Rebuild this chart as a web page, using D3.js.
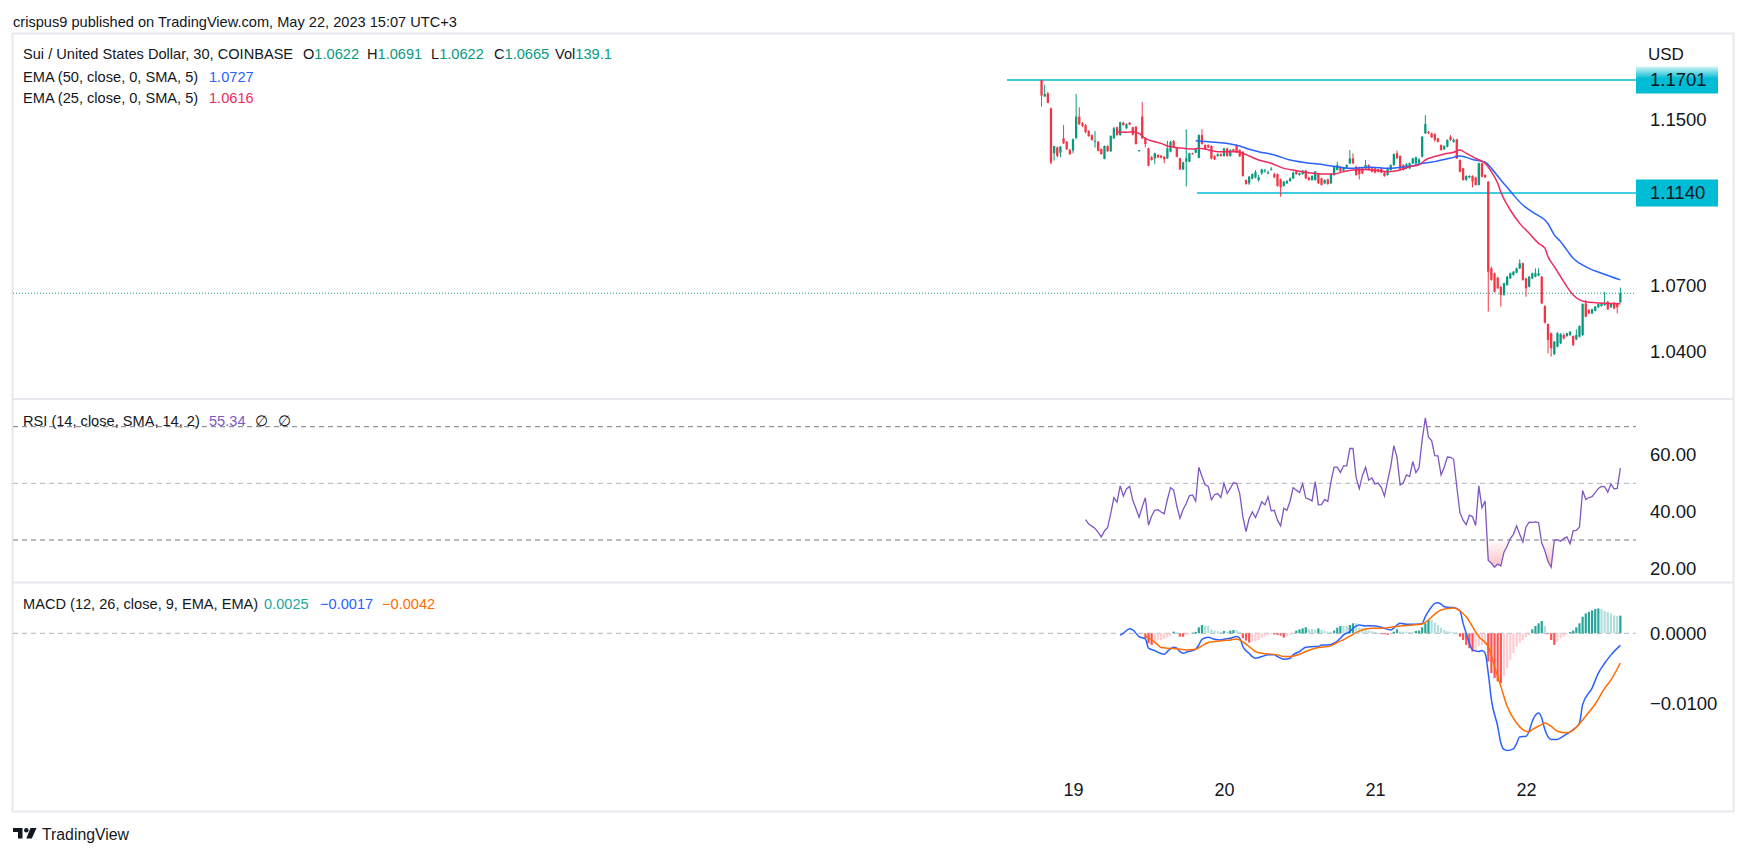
<!DOCTYPE html>
<html><head><meta charset="utf-8">
<script src="https://cdn.jsdelivr.net/npm/d3@7"></script>
<style>
html,body{margin:0;padding:0;background:#fff;}
svg{display:block;font-family:"Liberation Sans",Arial,sans-serif;}
</style></head><body>
<svg id="chart" width="1746" height="856"></svg>
<script>
// ---------- DATA ----------
// 30-minute candles [open, high, low, close], index 0 = May 18 19:00 (UTC+3)
const candles = [
[1.1701,1.1701,1.1566,1.1622],[1.1617,1.1676,1.1617,1.1630],[1.1633,1.1640,1.1583,1.1586],[1.1558,1.1561,1.1281,1.1288],
[1.1334,1.1370,1.1298,1.1370],[1.1363,1.1367,1.1314,1.1321],[1.1337,1.1370,1.1314,1.1367],[1.1408,1.1474,1.1380,1.1383],
[1.1391,1.1395,1.1350,1.1354],[1.1350,1.1357,1.1326,1.1330],[1.1347,1.1408,1.1334,1.1403],[1.1410,1.1630,1.1403,1.1516],
[1.1516,1.1563,1.1474,1.1479],[1.1483,1.1489,1.1463,1.1469],[1.1473,1.1479,1.1433,1.1439],[1.1444,1.1449,1.1416,1.1419],
[1.1424,1.1428,1.1396,1.1400],[1.1391,1.1444,1.1362,1.1396],[1.1391,1.1395,1.1344,1.1347],[1.1355,1.1358,1.1327,1.1330],
[1.1306,1.1373,1.1304,1.1370],[1.1370,1.1373,1.1340,1.1344],[1.1344,1.1423,1.1340,1.1419],[1.1408,1.1466,1.1405,1.1458],
[1.1463,1.1466,1.1421,1.1424],[1.1424,1.1491,1.1421,1.1488],[1.1486,1.1491,1.1471,1.1474],[1.1458,1.1483,1.1454,1.1478],
[1.1486,1.1489,1.1473,1.1476],[1.1463,1.1466,1.1423,1.1426],[1.1466,1.1469,1.1377,1.1380],[1.1344,1.1350,1.1344,1.1350],
[1.1516,1.1590,1.1405,1.1408],[1.1408,1.1411,1.1363,1.1380],[1.1358,1.1362,1.1270,1.1273],[1.1314,1.1321,1.1298,1.1301],
[1.1309,1.1337,1.1281,1.1334],[1.1326,1.1329,1.1311,1.1314],[1.1322,1.1326,1.1309,1.1312],[1.1317,1.1321,1.1285,1.1304],
[1.1309,1.1396,1.1306,1.1358],[1.1342,1.1396,1.1339,1.1391],[1.1395,1.1400,1.1362,1.1365],[1.1362,1.1365,1.1314,1.1317],
[1.1309,1.1312,1.1252,1.1255],[1.1255,1.1293,1.1252,1.1290],[1.1293,1.1453,1.1172,1.1309],[1.1293,1.1337,1.1290,1.1334],
[1.1334,1.1337,1.1327,1.1330],[1.1337,1.1357,1.1334,1.1354],[1.1312,1.1428,1.1309,1.1424],[1.1424,1.1453,1.1377,1.1380],
[1.1375,1.1378,1.1350,1.1354],[1.1375,1.1378,1.1360,1.1363],[1.1370,1.1373,1.1304,1.1308],[1.1321,1.1324,1.1301,1.1304],
[1.1321,1.1334,1.1317,1.1330],[1.1330,1.1334,1.1317,1.1321],[1.1321,1.1362,1.1317,1.1358],[1.1358,1.1362,1.1317,1.1321],
[1.1321,1.1354,1.1317,1.1350],[1.1354,1.1357,1.1340,1.1344],[1.1375,1.1378,1.1335,1.1339],[1.1350,1.1354,1.1316,1.1319],
[1.1342,1.1345,1.1219,1.1223],[1.1203,1.1206,1.1180,1.1184],[1.1187,1.1223,1.1179,1.1219],[1.1210,1.1236,1.1206,1.1232],
[1.1216,1.1252,1.1211,1.1242],[1.1203,1.1228,1.1195,1.1216],[1.1236,1.1258,1.1228,1.1255],[1.1247,1.1258,1.1239,1.1250],
[1.1237,1.1249,1.1231,1.1240],[1.1255,1.1266,1.1249,1.1258],[1.1232,1.1239,1.1213,1.1216],[1.1232,1.1236,1.1171,1.1174],
[1.1206,1.1210,1.1122,1.1167],[1.1174,1.1198,1.1171,1.1195],[1.1187,1.1203,1.1184,1.1198],[1.1198,1.1216,1.1195,1.1211],
[1.1211,1.1244,1.1208,1.1239],[1.1249,1.1252,1.1229,1.1232],[1.1228,1.1239,1.1224,1.1236],[1.1232,1.1252,1.1229,1.1249],
[1.1249,1.1252,1.1208,1.1211],[1.1216,1.1219,1.1200,1.1203],[1.1203,1.1226,1.1200,1.1223],[1.1203,1.1247,1.1200,1.1244],
[1.1232,1.1236,1.1184,1.1187],[1.1211,1.1214,1.1176,1.1179],[1.1187,1.1206,1.1184,1.1203],[1.1206,1.1210,1.1180,1.1184],
[1.1187,1.1236,1.1184,1.1232],[1.1228,1.1271,1.1224,1.1268],[1.1252,1.1293,1.1249,1.1276],[1.1268,1.1271,1.1240,1.1244],
[1.1249,1.1268,1.1245,1.1265],[1.1260,1.1280,1.1257,1.1276],[1.1285,1.1350,1.1281,1.1309],[1.1309,1.1334,1.1281,1.1285],
[1.1268,1.1273,1.1224,1.1228],[1.1265,1.1268,1.1206,1.1232],[1.1260,1.1263,1.1232,1.1236],[1.1260,1.1301,1.1257,1.1276],
[1.1276,1.1280,1.1249,1.1252],[1.1260,1.1263,1.1240,1.1244],[1.1260,1.1263,1.1236,1.1239],[1.1255,1.1258,1.1240,1.1244],
[1.1260,1.1263,1.1236,1.1239],[1.1239,1.1242,1.1219,1.1223],[1.1228,1.1263,1.1224,1.1260],[1.1252,1.1280,1.1249,1.1276],
[1.1276,1.1334,1.1273,1.1330],[1.1334,1.1347,1.1306,1.1309],[1.1321,1.1324,1.1252,1.1255],[1.1276,1.1280,1.1249,1.1252],
[1.1260,1.1285,1.1257,1.1281],[1.1260,1.1288,1.1257,1.1285],[1.1285,1.1312,1.1281,1.1309],[1.1285,1.1317,1.1281,1.1314],
[1.1288,1.1309,1.1281,1.1304],[1.1317,1.1419,1.1314,1.1416],[1.1433,1.1524,1.1429,1.1479],[1.1441,1.1444,1.1429,1.1433],
[1.1433,1.1436,1.1410,1.1413],[1.1429,1.1433,1.1391,1.1400],[1.1408,1.1411,1.1388,1.1391],[1.1375,1.1378,1.1347,1.1350],
[1.1354,1.1373,1.1350,1.1370],[1.1367,1.1403,1.1363,1.1400],[1.1416,1.1424,1.1396,1.1400],[1.1391,1.1408,1.1386,1.1400],
[1.1403,1.1406,1.1306,1.1309],[1.1301,1.1304,1.1240,1.1244],[1.1260,1.1263,1.1200,1.1203],[1.1203,1.1226,1.1200,1.1223],
[1.1216,1.1226,1.1211,1.1223],[1.1223,1.1226,1.1167,1.1195],[1.1216,1.1219,1.1176,1.1179],[1.1179,1.1288,1.1176,1.1285],
[1.1285,1.1288,1.1216,1.1219],[1.1228,1.1231,1.1213,1.1216],[1.1195,1.1198,1.0580,1.0765],[1.0781,1.0789,1.0723,1.0727],
[1.0758,1.0761,1.0669,1.0672],[1.0737,1.0742,1.0685,1.0688],[1.0695,1.0698,1.0603,1.0657],[1.0657,1.0714,1.0654,1.0711],
[1.0703,1.0745,1.0700,1.0742],[1.0734,1.0761,1.0731,1.0758],[1.0750,1.0769,1.0747,1.0765],[1.0761,1.0784,1.0758,1.0781],
[1.0781,1.0823,1.0778,1.0805],[1.0805,1.0808,1.0723,1.0727],[1.0734,1.0737,1.0649,1.0688],[1.0695,1.0745,1.0692,1.0742],
[1.0734,1.0761,1.0731,1.0758],[1.0742,1.0781,1.0739,1.0758],[1.0747,1.0781,1.0744,1.0758],[1.0742,1.0745,1.0615,1.0618],
[1.0606,1.0609,1.0526,1.0529],[1.0523,1.0526,1.0390,1.0450],[1.0481,1.0484,1.0375,1.0413],[1.0387,1.0446,1.0382,1.0443],
[1.0420,1.0486,1.0417,1.0481],[1.0435,1.0481,1.0432,1.0478],[1.0473,1.0481,1.0453,1.0458],[1.0468,1.0484,1.0465,1.0481],
[1.0473,1.0491,1.0468,1.0488],[1.0468,1.0471,1.0423,1.0428],[1.0453,1.0499,1.0450,1.0473],[1.0465,1.0517,1.0462,1.0514],
[1.0473,1.0618,1.0468,1.0615],[1.0618,1.0634,1.0554,1.0557],[1.0588,1.0591,1.0569,1.0572],[1.0572,1.0594,1.0569,1.0591],
[1.0584,1.0606,1.0581,1.0603],[1.0600,1.0618,1.0597,1.0615],[1.0606,1.0621,1.0603,1.0618],[1.0611,1.0672,1.0606,1.0618],
[1.0626,1.0629,1.0588,1.0591],[1.0600,1.0621,1.0597,1.0618],[1.0621,1.0624,1.0591,1.0595],[1.0615,1.0618,1.0572,1.0600],
[1.0622,1.0691,1.0622,1.0665]
];
// EMA readings [candle index, value]
const ema50 = [[49,1.1396],[53,1.1391],[56,1.1387],[60,1.1380],[63,1.1370],[66,1.1354],[69,1.1342],[74,1.1326],[79,1.1301],[84,1.1288],[90,1.1277],[95,1.1265],[98,1.1260],[102,1.1264],[105,1.1265],[110,1.1260],[114,1.1265],[118,1.1272],[121,1.1285],[125,1.1293],[128,1.1304],[131,1.1314],[133,1.1321],[137,1.1304],[141,1.1290],[143,1.1260],[146,1.1203],[148,1.1168],[150,1.1131],[153,1.1082],[157,1.1039],[160,1.1010],[161,1.0992],[163,1.0939],[165,1.0907],[167,1.0867],[169,1.0828],[171,1.0805],[174,1.0781],[178,1.0758],[184,1.0727]];
const ema25 = [[24,1.1441],[27,1.1438],[29,1.1441],[31,1.1433],[33,1.1408],[36,1.1391],[38,1.1383],[40,1.1370],[42,1.1364],[45,1.1359],[48,1.1355],[50,1.1359],[52,1.1355],[56,1.1342],[59,1.1342],[62,1.1342],[64,1.1334],[66,1.1321],[69,1.1301],[73,1.1285],[77,1.1260],[81,1.1249],[85,1.1239],[90,1.1233],[93,1.1233],[96,1.1244],[99,1.1252],[103,1.1255],[107,1.1249],[110,1.1244],[114,1.1252],[117,1.1268],[120,1.1277],[122,1.1301],[125,1.1318],[128,1.1331],[131,1.1339],[133,1.1350],[135,1.1334],[138,1.1309],[141,1.1285],[143,1.1244],[145,1.1187],[146,1.1145],[149,1.1058],[152,1.0994],[155,1.0947],[158,1.0899],[160,1.0876],[161,1.0836],[163,1.0789],[165,1.0742],[167,1.0696],[169,1.0657],[171,1.0634],[173,1.0626],[176,1.0621],[180,1.0618],[184,1.0616]];
// RSI(14) one value per candle from index 14
const rsiStart = 14;
const rsiValues = [
37.2,35.6,34.9,34.1,32.7,31.1,33.2,34.4,39.3,45.0,
43.4,49.1,45.5,48.0,48.9,44.0,41.1,38.0,41.7,44.9,
35.2,38.5,40.5,40.7,39.9,39.3,44.3,48.5,47.6,42.0,
37.7,40.8,42.9,45.6,45.9,43.7,55.7,52.4,49.5,48.9,
44.2,46.0,46.4,45.0,50.0,46.4,48.2,50.2,50.0,46.4,
38.2,33.0,37.6,39.9,37.9,40.5,43.5,42.4,45.3,40.3,
40.5,37.0,35.0,41.2,40.5,43.7,48.5,47.6,46.8,49.8,
44.8,44.4,43.8,50.6,42.4,42.5,44.3,43.6,50.6,55.7,
55.7,53.8,56.2,56.2,62.3,62.3,52.0,48.1,52.8,55.7,
51.1,51.9,49.8,50.1,48.6,45.5,50.8,55.9,63.3,59.1,
49.4,50.2,53.0,52.4,57.7,53.8,55.6,65.4,73.1,66.3,
65.1,59.8,59.7,53.0,55.7,59.3,59.2,58.5,48.8,39.6,
37.0,35.4,38.8,38.2,35.1,49.1,41.4,43.8,22.8,21.8,
20.4,21.5,20.8,25.7,27.8,30.5,32.0,35.0,32.0,29.3,
34.6,36.3,36.2,36.4,36.2,28.9,26.2,22.4,20.4,29.9,
30.1,29.6,30.5,31.1,28.7,33.2,33.4,34.6,47.5,44.3,
45.0,45.3,46.7,48.2,48.9,48.8,46.9,49.8,48.1,48.2,
55.34
];
const rsiLevels = [70,50,30];
const rsiTicks = [60,40,20];
// MACD line and signal readings [candle index, value]
const macdLine = [[25,-0.00028],[26,0.0],[28,0.00066],[29,0.00047],[31,-0.00047],[33,-0.0008],[34,-0.0021],[36,-0.00244],[37,-0.00268],[39,-0.00296],[40,-0.00258],[42,-0.00197],[43,-0.00211],[44,-0.00258],[45,-0.00282],[46,-0.00268],[48,-0.00244],[49,-0.00225],[50,-0.00164],[51,-0.00085],[53,-0.00056],[55,-0.00085],[57,-0.00094],[58,-0.00085],[60,-0.0007],[62,-0.00047],[63,-0.0007],[64,-0.00188],[66,-0.00282],[67,-0.00329],[68,-0.00352],[70,-0.00329],[72,-0.00305],[74,-0.00305],[75,-0.00329],[77,-0.00366],[79,-0.00352],[80,-0.00305],[82,-0.00258],[84,-0.00197],[87,-0.00188],[88,-0.00188],[89,-0.00164],[91,-0.00164],[93,-0.00141],[95,-0.0007],[96,-0.00023],[98,0.00023],[99,0.0007],[101,0.00117],[103,0.00103],[104,0.00108],[106,0.00103],[108,0.00085],[109,0.0007],[111,0.00047],[113,0.00117],[114,0.00141],[116,0.00127],[117,0.00127],[120,0.00131],[121,0.00141],[122,0.00235],[124,0.00376],[125,0.00423],[126,0.00432],[127,0.00413],[128,0.00376],[130,0.00366],[131,0.00366],[133,0.00319],[134,0.00141],[135,0.0],[136,-0.00141],[137,-0.00235],[139,-0.00258],[140,-0.00244],[141,-0.00282],[142,-0.00563],[143,-0.00939],[145,-0.01315],[146,-0.01549],[147,-0.01643],[148,-0.01657],[150,-0.01634],[151,-0.01559],[152,-0.01465],[154,-0.01455],[155,-0.01385],[156,-0.01244],[158,-0.01127],[159,-0.01197],[160,-0.01362],[162,-0.01502],[164,-0.01502],[165,-0.01479],[167,-0.01423],[169,-0.01362],[171,-0.01268],[172,-0.01009],[175,-0.00775],[177,-0.00563],[179,-0.00423],[181,-0.00305],[184,-0.0017]];
const signalLine = [[33,-0.0004],[35,-0.00094],[37,-0.00164],[38,-0.00202],[40,-0.00211],[42,-0.00216],[44,-0.00225],[46,-0.00235],[49,-0.00225],[51,-0.00178],[53,-0.00131],[55,-0.00117],[58,-0.00103],[60,-0.00094],[62,-0.0008],[63,-0.00094],[66,-0.00188],[68,-0.00258],[70,-0.00282],[72,-0.00291],[75,-0.00305],[77,-0.00329],[79,-0.00329],[82,-0.00296],[84,-0.00258],[87,-0.00211],[92,-0.00178],[94,-0.0013],[96,-0.0009],[98,-0.0004],[101,0.0003],[103,0.0006],[105,0.0007],[108,0.0007],[110,0.0008],[112,0.00094],[114,0.00103],[118,0.00117],[121,0.00131],[123,0.00188],[125,0.00272],[127,0.00329],[129,0.00352],[131,0.00357],[132,0.00343],[135,0.00235],[137,0.00094],[139,-0.00047],[142,-0.00188],[144,-0.00469],[146,-0.00751],[148,-0.01033],[151,-0.01268],[153,-0.01362],[155,-0.01394],[156,-0.01362],[159,-0.01291],[160,-0.01268],[162,-0.01315],[164,-0.01385],[167,-0.01408],[169,-0.0137],[171,-0.0128],[173,-0.0117],[176,-0.0100],[179,-0.0078],[181,-0.0066],[184,-0.0042]];
// MACD histogram one value per candle from index 33
const histStart = 33;
const histValues = [
-0.00070,-0.00141,-0.00164,-0.00117,-0.00103,-0.00094,-0.00080,-0.00061,-0.00033,0.00023,
0.00009,-0.00047,-0.00049,-0.00023,-0.00009,0.00009,0.00019,0.00085,0.00117,0.00108,
0.00108,0.00056,0.00038,0.00028,0.00019,0.00033,0.00019,0.00038,0.00047,0.00047,
0.00023,-0.00070,-0.00103,-0.00131,-0.00117,-0.00117,-0.00094,-0.00070,-0.00047,-0.00028,
-0.00014,-0.00016,-0.00023,-0.00033,-0.00061,-0.00038,-0.00023,-0.00005,0.00038,0.00056,
0.00070,0.00085,0.00061,0.00061,0.00047,0.00070,0.00047,0.00033,0.00023,0.00019,
0.00038,0.00080,0.00103,0.00103,0.00103,0.00117,0.00141,0.00141,0.00080,0.00070,
0.00047,0.00038,0.00028,0.00019,0.00005,-0.00009,-0.00014,-0.00023,-0.00009,0.00023,
0.00056,0.00028,0.00023,0.00023,0.00019,0.00019,0.00033,0.00038,0.00085,0.00141,
0.00188,0.00188,0.00150,0.00117,0.00080,0.00047,0.00028,0.00023,0.00014,0.00009,
-0.00047,-0.00094,-0.00164,-0.00211,-0.00258,-0.00258,-0.00188,-0.00164,-0.00160,-0.00399,
-0.00563,-0.00634,-0.00681,-0.00704,-0.00610,-0.00493,-0.00376,-0.00282,-0.00188,-0.00131,
-0.00094,-0.00056,-0.00023,0.00056,0.00103,0.00141,0.00174,0.00103,-0.00005,-0.00094,
-0.00164,-0.00117,-0.00070,-0.00047,-0.00019,0.00019,0.00038,0.00085,0.00141,0.00235,
0.00282,0.00305,0.00324,0.00343,0.00352,0.00343,0.00319,0.00300,0.00282,0.00255,
0.00243,0.00250
];
// levels and axes
const levelPrices = [1.1701, 1.1140];
const levelStartIndex = [-11, 49.4];
const lastPrice = 1.0665;
const priceTicks = [1.15, 1.07, 1.04];
const macdTicks = [0, -0.01];
const dayTickIndex = [10, 58, 106, 154];
const dayLabels = ["19", "20", "21", "22"];
const ohlcLegend = ["1.0622", "1.0691", "1.0622", "1.0665"];
const volLegend = "139.1";
const emaLegend = ["1.0727", "1.0616"];
const rsiLegend = "55.34";
const macdLegend = ["0.0025", "\u22120.0017", "\u22120.0042"];

// ---------- DRAW ----------
const svg = d3.select("#chart");
const TXT = "#131722", UP = "#089981", DN = "#F23645";
const C_EMA50 = "#2962FF", C_EMA25 = "#EE2A5F", C_RSI = "#7E57C2";
const C_MACD = "#2962FF", C_SIG = "#FF6D00", C_LVL = "#00BCD4";
const plotL = 13, plotR = 1636;

svg.append("rect").attr("width", 1746).attr("height", 856).attr("fill", "#fff");

const x = d3.scaleLinear().domain([dayTickIndex[0], dayTickIndex[3]]).range([1073, 1526]);
const yP = d3.scaleLog().domain([1.01857, 1.19374]).range([399, 34]);
const yR = d3.scaleLinear().domain([30, 70]).range([540, 426.7]);
const yM = d3.scaleLinear().domain([0, -0.01]).range([633.3, 704]);

const defs = svg.append("defs");
function clip(id, y0, y1) {
  defs.append("clipPath").attr("id", id).append("rect")
    .attr("x", plotL).attr("y", y0).attr("width", plotR - plotL).attr("height", y1 - y0);
}
clip("cMain", 35, 398); clip("cRsi", 400, 581.5); clip("cMacd", 583.5, 775);

const g1 = defs.append("linearGradient").attr("id", "boxGrad").attr("x1", 0).attr("x2", 0).attr("y1", 0).attr("y2", 1);
g1.append("stop").attr("offset", "0%").attr("stop-color", "#D4F4F8");
g1.append("stop").attr("offset", "45%").attr("stop-color", "#00BCD4");
g1.append("stop").attr("offset", "100%").attr("stop-color", "#00BCD4");
const g2 = defs.append("linearGradient").attr("id", "rsiGrad").attr("gradientUnits", "userSpaceOnUse")
  .attr("x1", 0).attr("x2", 0).attr("y1", yR(30)).attr("y2", yR(20));
g2.append("stop").attr("offset", "0%").attr("stop-color", "#F23645").attr("stop-opacity", 0.02);
g2.append("stop").attr("offset", "100%").attr("stop-color", "#F23645").attr("stop-opacity", 0.32);

// title
svg.append("text").attr("x", 13).attr("y", 26.5).attr("font-size", 14.6).attr("fill", TXT)
  .text("crispus9 published on TradingView.com, May 22, 2023 15:07 UTC+3");

// frame and separators
svg.append("rect").attr("x", 12.5).attr("y", 33.5).attr("width", 1721).attr("height", 778)
  .attr("fill", "none").attr("stroke", "#E6E8EE").attr("stroke-width", 2);
[399, 582.5].forEach(yy => svg.append("line").attr("x1", 12.5).attr("x2", 1733.5)
  .attr("y1", yy).attr("y2", yy).attr("stroke", "#E6E8EE").attr("stroke-width", 2));

// ---- main pane ----
const main = svg.append("g").attr("clip-path", "url(#cMain)");
levelPrices.forEach((p, k) => {
  main.append("line").attr("x1", x(levelStartIndex[k])).attr("x2", plotR)
    .attr("y1", yP(p)).attr("y2", yP(p)).attr("stroke", C_LVL).attr("stroke-width", 1.5);
});
main.append("line").attr("x1", plotL).attr("x2", plotR).attr("y1", yP(lastPrice)).attr("y2", yP(lastPrice))
  .attr("stroke", UP).attr("stroke-width", 1).attr("stroke-dasharray", "1,2");

const cg = main.append("g");
candles.forEach((c, i) => {
  const [o, h, l, cl] = c;
  const col = cl >= o ? UP : DN;
  const cx = x(i);
  cg.append("line").attr("x1", cx).attr("x2", cx).attr("y1", yP(h)).attr("y2", yP(l))
    .attr("stroke", col).attr("stroke-width", 1);
  const yt = yP(Math.max(o, cl)), yb = yP(Math.min(o, cl));
  cg.append("rect").attr("x", cx - 1.15).attr("width", 2.3)
    .attr("y", yt).attr("height", Math.max(1, yb - yt)).attr("fill", col);
});
const emaLine = d3.line().x(d => x(d[0])).y(d => yP(d[1])).curve(d3.curveMonotoneX);
main.append("path").attr("d", emaLine(ema50)).attr("fill", "none").attr("stroke", C_EMA50).attr("stroke-width", 1.5);
main.append("path").attr("d", emaLine(ema25)).attr("fill", "none").attr("stroke", C_EMA25).attr("stroke-width", 1.5);

// price axis
const pAx = svg.append("g").attr("transform", "translate(1650,0)")
  .call(d3.axisRight(yP).tickValues(priceTicks).tickFormat(d3.format(".4f")).tickSize(0).tickPadding(0));
pAx.select(".domain").remove();
pAx.selectAll("text").attr("font-size", 18.5).attr("fill", TXT).attr("font-family", "Liberation Sans, Arial, sans-serif");
svg.append("text").attr("x", 1648).attr("y", 60).attr("font-size", 17).attr("fill", TXT).text("USD");
levelPrices.forEach((p, k) => {
  const yy = yP(p);
  svg.append("rect").attr("x", plotR).attr("y", yy - 13.5).attr("width", 82).attr("height", 27)
    .attr("fill", k === 0 ? "url(#boxGrad)" : C_LVL);
  svg.append("text").attr("x", 1650).attr("y", yy).attr("dy", "0.32em").attr("font-size", 18.5)
    .attr("fill", TXT).text(d3.format(".4f")(p));
});

// legends: each item has its own x; prefix text (dark) then coloured value
function legend(y, label, items) {
  const t = svg.append("text").attr("x", 23).attr("y", y).attr("font-size", 14.6).attr("fill", TXT);
  t.append("tspan").text(label);
  items.forEach(it => {
    if (it.pre) {
      t.append("tspan").attr("x", it.x).text(it.pre);
      if (it.v) t.append("tspan").attr("fill", it.c).text(it.v);
    } else if (it.v) {
      t.append("tspan").attr("x", it.x).attr("fill", it.c).text(it.v);
    }
  });
}
legend(59, "Sui / United States Dollar, 30, COINBASE", [
  {x: 303, pre: "O", v: ohlcLegend[0], c: UP}, {x: 367, pre: "H", v: ohlcLegend[1], c: UP},
  {x: 431, pre: "L", v: ohlcLegend[2], c: UP}, {x: 494, pre: "C", v: ohlcLegend[3], c: UP},
  {x: 555, pre: "Vol", v: volLegend, c: UP}]);
legend(81.5, "EMA (50, close, 0, SMA, 5)", [{x: 209, v: emaLegend[0], c: C_EMA50}]);
legend(102.5, "EMA (25, close, 0, SMA, 5)", [{x: 209, v: emaLegend[1], c: C_EMA25}]);

// ---- RSI pane ----
const rsiData = rsiValues.map((v, k) => [rsiStart + k, v]);
const rp = svg.append("g").attr("clip-path", "url(#cRsi)");
rsiLevels.forEach(lv => rp.append("line").attr("x1", plotL).attr("x2", plotR)
  .attr("y1", yR(lv)).attr("y2", yR(lv)).attr("stroke", lv === 50 ? "#B2B5BE" : "#787B86")
  .attr("stroke-width", 1).attr("stroke-dasharray", "5,4"));
rp.append("path").attr("d", d3.area().x(d => x(d[0])).y0(yR(30)).y1(d => yR(Math.min(d[1], 30)))(rsiData))
  .attr("fill", "url(#rsiGrad)");
rp.append("path").attr("d", d3.line().x(d => x(d[0])).y(d => yR(d[1]))(rsiData))
  .attr("fill", "none").attr("stroke", C_RSI).attr("stroke-width", 1.3);
const rAx = svg.append("g").attr("transform", "translate(1650,0)")
  .call(d3.axisRight(yR).tickValues(rsiTicks).tickFormat(d3.format(".2f")).tickSize(0).tickPadding(0));
rAx.select(".domain").remove();
rAx.selectAll("text").attr("font-size", 18.5).attr("fill", TXT).attr("font-family", "Liberation Sans, Arial, sans-serif");
legend(426, "RSI (14, close, SMA, 14, 2)", [{x: 209, v: rsiLegend, c: C_RSI}, {x: 255, pre: "\u2205"}, {x: 278, pre: "\u2205"}]);

// ---- MACD pane ----
const mp = svg.append("g").attr("clip-path", "url(#cMacd)");
mp.append("line").attr("x1", plotL).attr("x2", plotR).attr("y1", yM(0)).attr("y2", yM(0))
  .attr("stroke", "#B2B5BE").attr("stroke-width", 1).attr("stroke-dasharray", "5,4");
histValues.forEach((v, k) => {
  const i = histStart + k;
  const prev = k > 0 ? histValues[k - 1] : 0;
  let col;
  if (v >= 0) col = v > prev ? "#26A69A" : "#B2DFDB";
  else col = v < prev ? "#FF5252" : "#FFCDD2";
  const y0 = yM(Math.max(v, 0)), y1 = yM(Math.min(v, 0));
  mp.append("rect").attr("x", x(i) - 1.1).attr("width", 2.2).attr("y", y0)
    .attr("height", Math.max(0.8, y1 - y0)).attr("fill", col);
});
const mLine = d3.line().x(d => x(d[0])).y(d => yM(d[1])).curve(d3.curveMonotoneX);
mp.append("path").attr("d", mLine(macdLine)).attr("fill", "none").attr("stroke", C_MACD).attr("stroke-width", 1.5);
mp.append("path").attr("d", mLine(signalLine)).attr("fill", "none").attr("stroke", C_SIG).attr("stroke-width", 1.5);
const mAx = svg.append("g").attr("transform", "translate(1650,0)")
  .call(d3.axisRight(yM).tickValues(macdTicks).tickFormat(d => d3.format(".4f")(d).replace("-", "\u2212")).tickSize(0).tickPadding(0));
mAx.select(".domain").remove();
mAx.selectAll("text").attr("font-size", 18.5).attr("fill", TXT).attr("font-family", "Liberation Sans, Arial, sans-serif");
legend(609, "MACD (12, 26, close, 9, EMA, EMA)", [
  {x: 264, v: macdLegend[0], c: "#26A69A"}, {x: 320, v: macdLegend[1], c: C_MACD},
  {x: 382, v: macdLegend[2], c: C_SIG}]);

// ---- time axis ----
const tAx = svg.append("g").attr("transform", "translate(0,780.5)")
  .call(d3.axisBottom(x).tickValues(dayTickIndex).tickFormat((d, k) => dayLabels[k]).tickSize(0));
tAx.select(".domain").remove();
tAx.selectAll("text").attr("font-size", 18).attr("fill", TXT).attr("font-family", "Liberation Sans, Arial, sans-serif");

// ---- footer logo ----
const lg = svg.append("g").attr("fill", TXT);
lg.append("path").attr("d", "M13,828 H22.5 V838.5 H18 V832 H13 Z");
lg.append("circle").attr("cx", 26.3).attr("cy", 830.2).attr("r", 2.2);
lg.append("path").attr("d", "M30.5,828 H36.5 L31.8,838.5 H26.3 Z");
svg.append("text").attr("x", 42).attr("y", 840).attr("font-size", 15.8).attr("fill", TXT).text("TradingView");
</script>
</body></html>
